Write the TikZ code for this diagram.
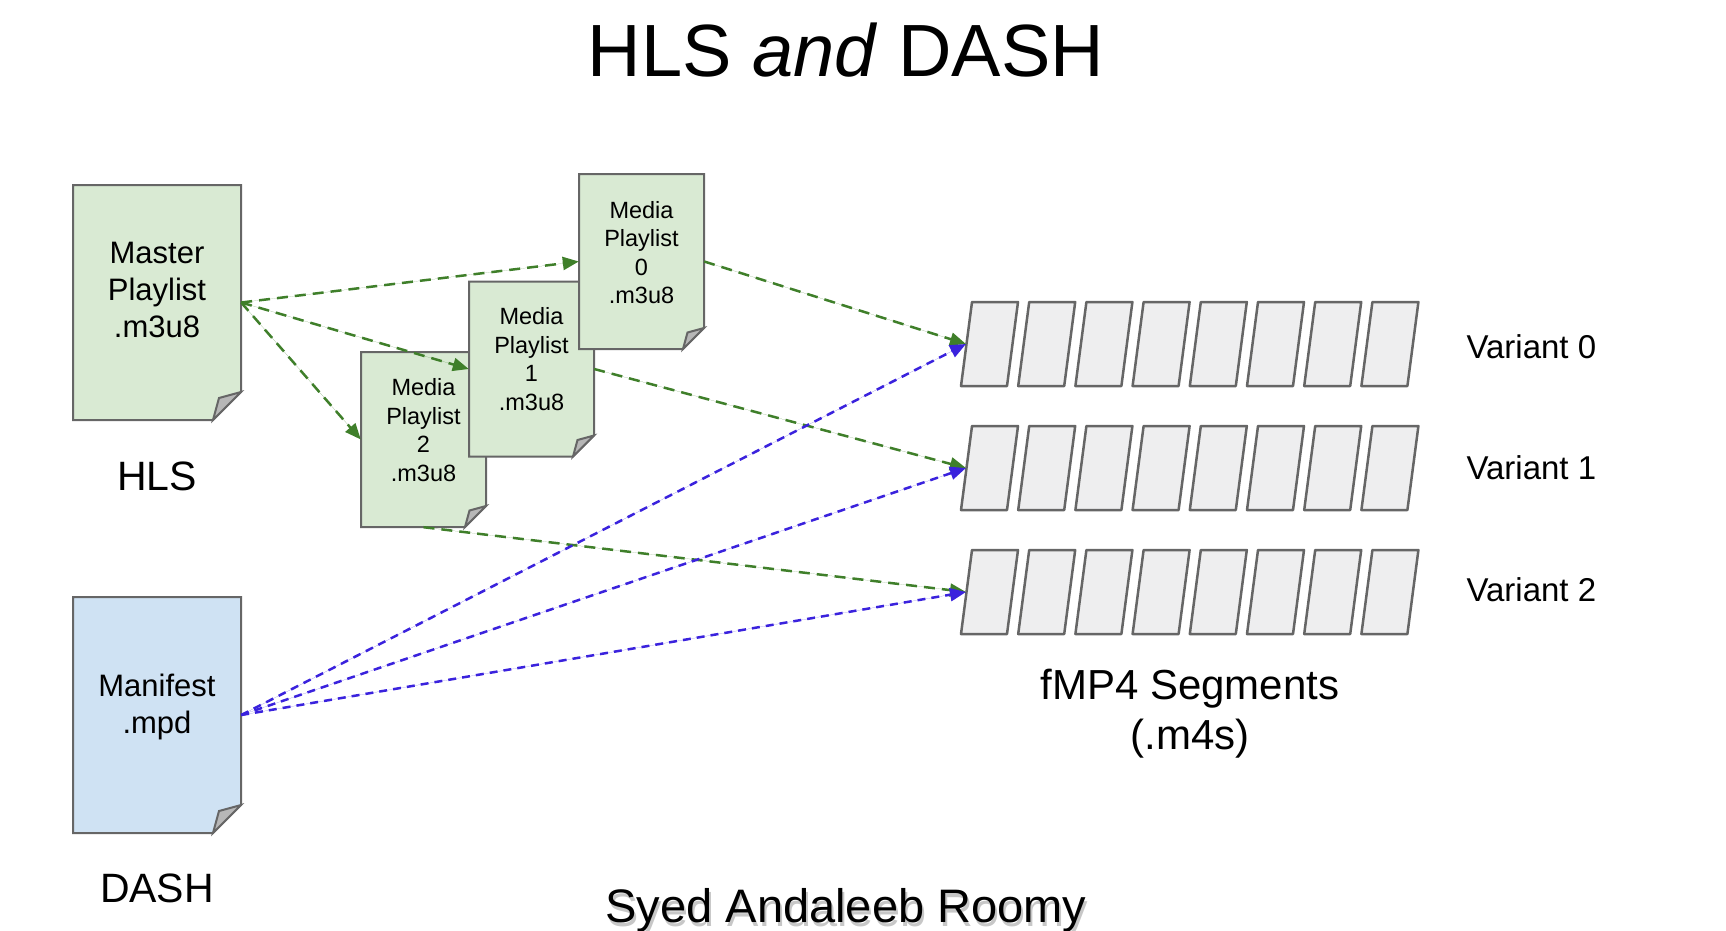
\documentclass[tikz,border=0pt]{standalone}
\usepackage{fontspec}
\setmainfont{Liberation Sans}
\usetikzlibrary{arrows.meta}

\definecolor{hlsFill}{HTML}{D9EAD3}
\definecolor{dashFill}{HTML}{CFE2F3}
\definecolor{segFill}{HTML}{EEEEEF}
\definecolor{edgeGray}{HTML}{666666}
\definecolor{foldGray}{HTML}{B7B7B7}
\definecolor{hlsLine}{HTML}{3F7F2A}
\definecolor{dashLine}{HTML}{3A22DD}

\begin{document}
\begin{tikzpicture}
[x=1pt,y=-1pt,
  docLine/.style={draw=edgeGray,line width=2pt,line join=miter},
  docNode/.style={shape=rectangle,inner sep=0pt},
  bigText/.style={align=center,font=\fontsize{31}{37}\selectfont},
  smallText/.style={align=center,font=\fontsize{23.5}{28.5}\selectfont},
  labelText/.style={font=\fontsize{41}{49}\selectfont},
  variantText/.style={font=\fontsize{33}{40}\selectfont},
  segText/.style={align=center,font=\fontsize{42}{50}\selectfont},
  titleText/.style={font=\fontsize{74}{88}\selectfont},
  creditText/.style={font=\fontsize{47}{56}\selectfont},
  segLine/.style={draw=edgeGray,fill=segFill,line width=2.5pt,line join=round},
  hlsArrow/.style={-{Triangle[length=16pt,width=13pt]},draw=hlsLine,fill=hlsLine,
    line width=2.5pt,dash pattern=on 11pt off 7pt},
  dashArrow/.style={-{Triangle[length=16pt,width=13pt]},draw=dashLine,fill=dashLine,
    line width=2.5pt,dash pattern=on 8pt off 6pt}]
\useasboundingbox (0,0) rectangle (1726,930);
%% title
\node (title) at (846,76) [anchor=base,titleText] {HLS \textit{and} DASH};
%% master playlist and manifest
\foreach \name/\cx/\cy/\w/\h/\col/\ty/\txt in {
  master/157/302.5/168/235/hlsFill/290/{Master\\Playlist\\.m3u8},
  manifest/157/715/168/236/dashFill/707/{Manifest\\.mpd}}
{
  \filldraw[docLine,fill=\col] (\cx-\w/2,\cy-\h/2) -- (\cx+\w/2,\cy-\h/2)
    -- (\cx+\w/2,\cy+\h/2-28) -- (\cx+\w/2-28,\cy+\h/2) -- (\cx-\w/2,\cy+\h/2) -- cycle;
  \filldraw[docLine,fill=foldGray] (\cx+\w/2,\cy+\h/2-28)
    -- (\cx+\w/2-22,\cy+\h/2-22) -- (\cx+\w/2-28,\cy+\h/2) -- cycle;
  \node (\name) at (\cx,\cy) [docNode,minimum width=\w pt,minimum height=\h pt] {};
  \node (\name-txt) at (\cx,\ty) [bigText] {\txt};
}
\node (hls) at (157,490) [anchor=base,labelText] {HLS};
\node (dash) at (157,902) [anchor=base,labelText] {DASH};
%% media playlists
\foreach \name/\cx/\cy/\ty/\num in {
  mp2/423.5/439.5/430/2, mp1/531.5/369/359/1, mp0/641.5/261.5/252.5/0}
{
  \filldraw[docLine,fill=hlsFill] (\cx-62.5,\cy-87.5) -- (\cx+62.5,\cy-87.5)
    -- (\cx+62.5,\cy+66.5) -- (\cx+41.5,\cy+87.5) -- (\cx-62.5,\cy+87.5) -- cycle;
  \filldraw[docLine,fill=foldGray] (\cx+62.5,\cy+66.5)
    -- (\cx+46,\cy+71) -- (\cx+41.5,\cy+87.5) -- cycle;
  \node (\name) at (\cx,\cy) [docNode,minimum width=125pt,minimum height=175pt] {};
  \node (\name-txt) at (\cx,\ty) [smallText] {Media\\Playlist\\\num\\.m3u8};
}
%% fMP4 segments
\foreach \r in {0,1,2}
{
  \foreach \i in {0,...,7}
  {
    \path[segLine] (972+57.2*\i,302+124*\r) -- ++(46,0) -- ++(-11,84) -- ++(-46,0) -- cycle;
  }
  \coordinate (v\r) at (966,344+124*\r);
  \node (var\r) at (1463,346.5+121.5*\r) [anchor=west,variantText] {Variant \r};
}
\node (segs) at (1190,714) [segText] {fMP4 Segments\\(.m4s)};
%% arrows
\draw[hlsArrow] (master.east) -- (mp0.west);
\draw[hlsArrow] (master.east) -- (mp1.west);
\draw[hlsArrow] (master.east) -- (mp2.west);
\draw[hlsArrow] (mp0.east) -- (v0);
\draw[hlsArrow] (mp1.east) -- (v1);
\draw[hlsArrow] (mp2.south) -- (v2);
\foreach \r in {0,1,2}
  \draw[dashArrow] (manifest.east) -- (v\r);
%% credit
\node (credit-shadow) at (848,926) [anchor=base,creditText,text=black!22] {Syed Andaleeb Roomy};
\node (credit) at (846,922) [anchor=base,creditText] {Syed Andaleeb Roomy};
\end{tikzpicture}
\end{document}
